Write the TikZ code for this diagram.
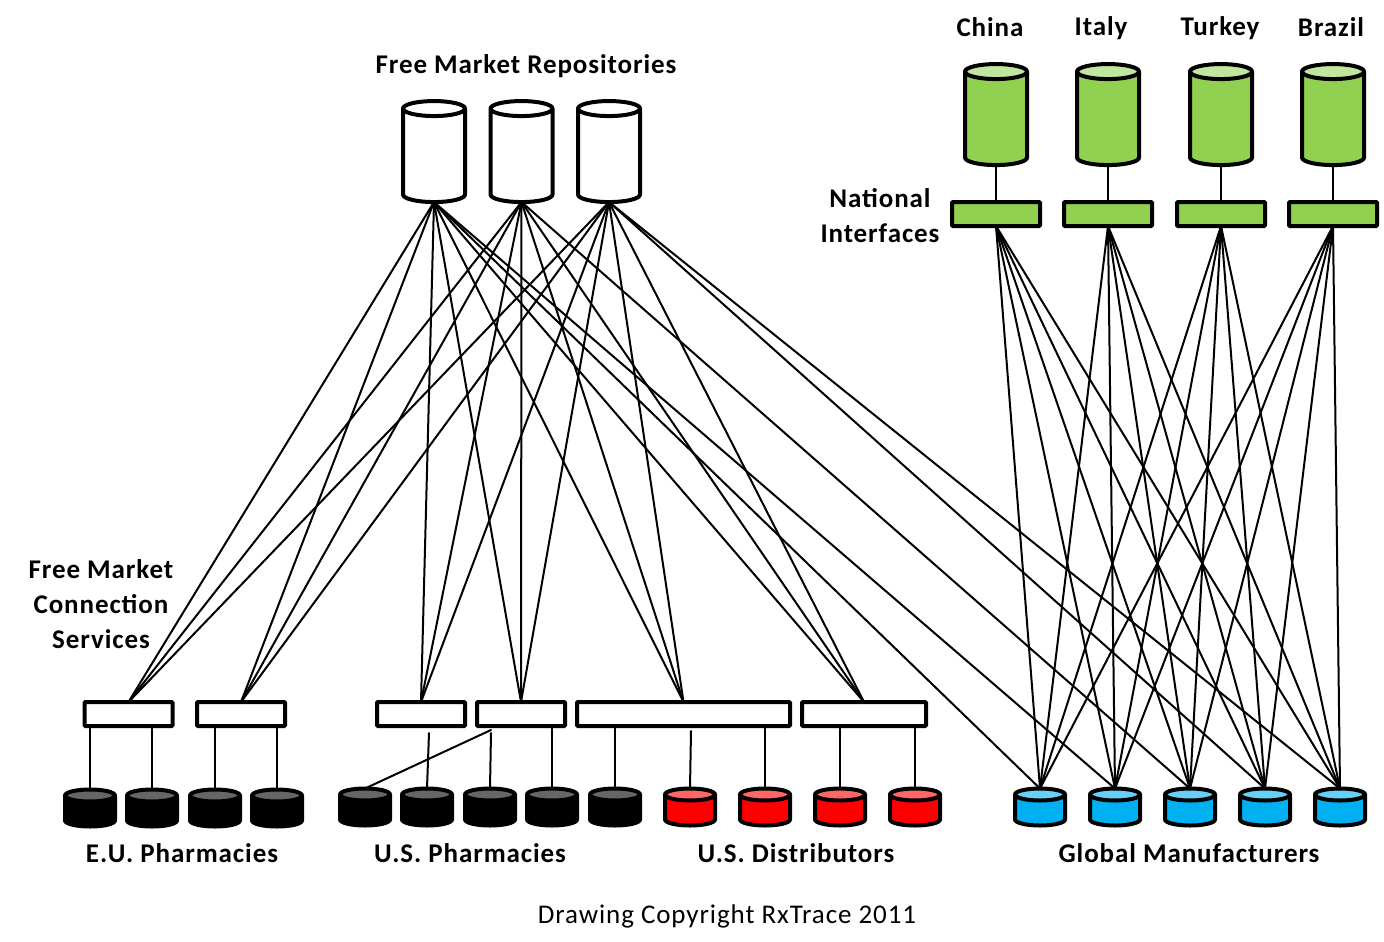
\documentclass[tikz,border=0pt]{standalone}
\usepackage{fontspec}
\setmainfont{Carlito}[LetterSpace=3.4]
\usetikzlibrary{shapes.geometric}
\definecolor{natgreen}{HTML}{92D050}
\definecolor{natgreentop}{HTML}{C2E6A0}
\definecolor{blacktop}{HTML}{666666}
\definecolor{redtop}{HTML}{FF6666}
\definecolor{mfrblue}{HTML}{00B0F0}
\definecolor{mfrbluetop}{HTML}{66D0F6}
\tikzset{
  tank/.style={shape=cylinder, draw, shape border rotate=90, cylinder uses custom fill,
    line width=4pt, outer sep=0pt, line join=round},
  bigtank/.style={tank, aspect=2.25, minimum width=62pt, minimum height=101pt},
  smalltank/.style={tank, aspect=1.8, minimum width=50pt, minimum height=37pt},
  repotank/.style={bigtank, cylinder body fill=white, cylinder end fill=white},
  nattank/.style={bigtank, cylinder body fill=natgreen, cylinder end fill=natgreentop},
  blacktank/.style={smalltank, cylinder body fill=black, cylinder end fill=blacktop},
  redtank/.style={smalltank, cylinder body fill=red, cylinder end fill=redtop},
  bluetank/.style={smalltank, cylinder body fill=mfrblue, cylinder end fill=mfrbluetop},
  iface/.style={draw, rectangle, rounded corners=1pt, line width=4pt, outer sep=0pt, inner sep=0pt,
    minimum height=24pt, minimum width=88pt},
  label/.style={font=\fontsize{27}{35}\selectfont\bfseries, align=center, inner sep=0pt},
  link/.style={line width=2pt, line cap=round}
}
\begin{document}
\begin{tikzpicture}[x=1pt, y=-1pt]
        \useasboundingbox (0,0) rectangle (1384,942);
        % Repositories
        \node[repotank] (repo1) at (434,158) {};
        \node[repotank, right of=repo1, node distance=87.5pt] (repo2) {};
        \node[repotank, right of=repo2, node distance=87.5pt] (repo3) {};
        % National tanks and interfaces
        \node[nattank] (china) at (996,121) {};
        \node[nattank] (italy) at (1108,121) {};
        \node[nattank] (turkey) at (1221,121) {};
        \node[nattank] (brazil) at (1333,121) {};
        \node[iface, fill=natgreen] (ifchina) at (996,214) {};
        \node[iface, fill=natgreen] (ifitaly) at (1108,214) {};
        \node[iface, fill=natgreen] (ifturkey) at (1221,214) {};
        \node[iface, fill=natgreen] (ifbrazil) at (1333,214) {};
        % Connection services
        \node[iface, fill=white] (svc1) at (128.5,714) {};
        \node[iface, fill=white] (svc2) at (241,714) {};
        \node[iface, fill=white] (svc3) at (421,714) {};
        \node[iface, fill=white] (svc4) at (521,714) {};
        \node[iface, fill=white, minimum width=213pt] (svc5) at (683.5,714) {};
        \node[iface, fill=white, minimum width=124pt] (svc6) at (864,714) {};
        % Pharmacies
        \node[blacktank] (eu1) at (90,813.5) {};
        \node[blacktank] (eu2) at (152,813.5) {};
        \node[blacktank] (eu3) at (215,813.5) {};
        \node[blacktank] (eu4) at (277,813.5) {};
        \node[blacktank] (us1) at (365,812.5) {};
        \node[blacktank] (us2) at (427,812.5) {};
        \node[blacktank] (us3) at (490,812.5) {};
        \node[blacktank] (us4) at (552,812.5) {};
        \node[blacktank] (us5) at (615,812.5) {};
        % Distributors
        \node[redtank] (dist1) at (690,812.5) {};
        \node[redtank] (dist2) at (765,812.5) {};
        \node[redtank] (dist3) at (840,812.5) {};
        \node[redtank] (dist4) at (915,812.5) {};
        % Manufacturers
        \node[bluetank] (mfr1) at (1040,812.5) {};
        \node[bluetank] (mfr2) at (1115,812.5) {};
        \node[bluetank] (mfr3) at (1190,812.5) {};
        \node[bluetank] (mfr4) at (1265,812.5) {};
        \node[bluetank] (mfr5) at (1340,812.5) {};
        % Labels
        \node[label] (repolabel) at (526,66) {Free Market Repositories};
        \node[label] (chinalabel) at (990,27) {China};
        \node[label] (italylabel) at (1101,28) {Italy};
        \node[label] (turkeylabel) at (1220,28) {Turkey};
        \node[label] (brazillabel) at (1331,27) {Brazil};
        \node[label] (natlabel) at (880,216) {National\\Interfaces};
        \node[label] (svclabel) at (101,604) {Free Market\\Connection\\Services};
        \node[label] (eulabel) at (182,853) {E.U. Pharmacies};
        \node[label] (uslabel) at (470,853) {U.S. Pharmacies};
        \node[label] (distlabel) at (796,853) {U.S. Distributors};
        \node[label] (mfrlabel) at (1189,853) {Global Manufacturers};
        \node[label, font=\fontsize{27}{35}\selectfont] (copylabel) at (727,916) {Drawing Copyright RxTrace 2011};
        % Free ends of the short links
        \coordinate (end1) at (491,730);
        \coordinate (end2) at (429,733);
        \coordinate (end3) at (491,733);
        \coordinate (end4) at (691,731);
        % Repository links
        \draw[link] (repo1.south) -- (svc1.north);
        \draw[link] (repo1.south) -- (svc2.north);
        \draw[link] (repo1.south) -- (svc3.north);
        \draw[link] (repo1.south) -- (svc4.north);
        \draw[link] (repo1.south) -- (svc5.north);
        \draw[link] (repo1.south) -- (svc6.north);
        \draw[link] (repo1.south) -- (mfr1.north);
        \draw[link] (repo1.south) -- (mfr2.north);
        \draw[link] (repo2.south) -- (svc1.north);
        \draw[link] (repo2.south) -- (svc2.north);
        \draw[link] (repo2.south) -- (svc3.north);
        \draw[link] (repo2.south) -- (svc4.north);
        \draw[link] (repo2.south) -- (svc5.north);
        \draw[link] (repo2.south) -- (svc6.north);
        \draw[link] (repo2.south) -- (mfr3.north);
        \draw[link] (repo3.south) -- (svc1.north);
        \draw[link] (repo3.south) -- (svc2.north);
        \draw[link] (repo3.south) -- (svc3.north);
        \draw[link] (repo3.south) -- (svc4.north);
        \draw[link] (repo3.south) -- (svc5.north);
        \draw[link] (repo3.south) -- (svc6.north);
        \draw[link] (repo3.south) -- (mfr4.north);
        \draw[link] (repo3.south) -- (mfr5.north);
        % National links
        \draw[link] (china.south) -- (ifchina.north);
        \draw[link] (italy.south) -- (ifitaly.north);
        \draw[link] (turkey.south) -- (ifturkey.north);
        \draw[link] (brazil.south) -- (ifbrazil.north);
        \draw[link] (ifchina.south) -- (mfr1.north);
        \draw[link] (ifchina.south) -- (mfr2.north);
        \draw[link] (ifchina.south) -- (mfr3.north);
        \draw[link] (ifchina.south) -- (mfr4.north);
        \draw[link] (ifchina.south) -- (mfr5.north);
        \draw[link] (ifitaly.south) -- (mfr1.north);
        \draw[link] (ifitaly.south) -- (mfr2.north);
        \draw[link] (ifitaly.south) -- (mfr3.north);
        \draw[link] (ifitaly.south) -- (mfr4.north);
        \draw[link] (ifitaly.south) -- (mfr5.north);
        \draw[link] (ifturkey.south) -- (mfr1.north);
        \draw[link] (ifturkey.south) -- (mfr2.north);
        \draw[link] (ifturkey.south) -- (mfr3.north);
        \draw[link] (ifturkey.south) -- (mfr4.north);
        \draw[link] (ifturkey.south) -- (mfr5.north);
        \draw[link] (ifbrazil.south) -- (mfr1.north);
        \draw[link] (ifbrazil.south) -- (mfr2.north);
        \draw[link] (ifbrazil.south) -- (mfr3.north);
        \draw[link] (ifbrazil.south) -- (mfr4.north);
        \draw[link] (ifbrazil.south) -- (mfr5.north);
        % Short links
        \draw[link] (eu1.north) -- (eu1.north |- svc1.south);
        \draw[link] (eu2.north) -- (eu2.north |- svc1.south);
        \draw[link] (eu3.north) -- (eu3.north |- svc2.south);
        \draw[link] (eu4.north) -- (eu4.north |- svc2.south);
        \draw[link] (us1.north) -- (end1);
        \draw[link] (us2.north) -- (end2);
        \draw[link] (us3.north) -- (end3);
        \draw[link] (us4.north) -- (us4.north |- svc4.south);
        \draw[link] (us5.north) -- (us5.north |- svc5.south);
        \draw[link] (dist1.north) -- (end4);
        \draw[link] (dist2.north) -- (dist2.north |- svc5.south);
        \draw[link] (dist3.north) -- (dist3.north |- svc6.south);
        \draw[link] (dist4.north) -- (dist4.north |- svc6.south);
\end{tikzpicture}
\end{document}
